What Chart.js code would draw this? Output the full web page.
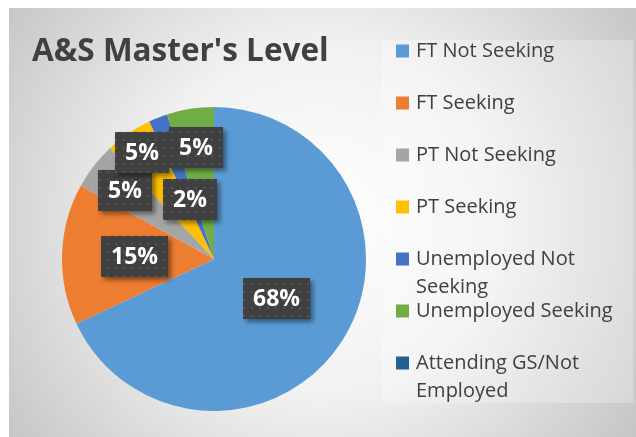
<!DOCTYPE html>
<html>
<head>
<meta charset="utf-8">
<script src="https://cdn.jsdelivr.net/npm/chart.js@4"></script>
<style>
  html, body { margin: 0; padding: 0; background: #fff; }
  #wrap { width: 636px; height: 437px; }
</style>
</head>
<body>
<div id="wrap"><canvas id="pie" width="636" height="437"></canvas></div>
<script>
const chartTitle = "A&S Master's Level";
const categories = ["FT Not Seeking", "FT Seeking", "PT Not Seeking", "PT Seeking",
    "Unemployed Not Seeking", "Unemployed Seeking", "Attending GS/Not Employed"];
const percents = [68, 15, 5, 5, 2, 5, 0];
const sliceColors = ["#5B9BD5", "#ED7D31", "#A5A5A5", "#FFC000", "#4472C4", "#70AD47", "#255E91"];

// how far out along the radius each label box sits (Excel "best fit" look)
const labelRadius = [0.49, 0.52, 0.74, 0.845, 0.42, 0.74, 0.5];

const FONT = "'Open Sans', 'DejaVu Sans', sans-serif";

// dotted texture for the label boxes
function makeDots() {
    const c = document.createElement("canvas");
    c.width = 8; c.height = 8;
    const g = c.getContext("2d");
    g.fillStyle = "#404040";
    g.fillRect(0, 0, 8, 8);
    g.fillStyle = "#555555";
    g.fillRect(3, 3, 2, 2);
    return c;
}

const backdrop = {
    id: "backdrop",
    beforeDraw(chart) {
        const ctx = chart.ctx;
        const w = chart.width, h = chart.height;
        ctx.save();
        ctx.fillStyle = "#ffffff";
        ctx.fillRect(0, 0, w, h);
        const grad = ctx.createRadialGradient(320, 220, 0, 320, 220, 390);
        grad.addColorStop(0, "#ffffff");
        grad.addColorStop(0.45, "#f1f1f1");
        grad.addColorStop(1, "#c4c4c4");
        ctx.fillStyle = grad;
        ctx.fillRect(9, 8, w - 9, h - 8);
        // legend panel
        ctx.fillStyle = "rgba(255,255,255,0.25)";
        ctx.fillRect(382, 40, 251, 363);
        // title
        ctx.fillStyle = "#404040";
        ctx.font = "bold 31.5px " + FONT;
        ctx.textBaseline = "middle";
        ctx.fillText(chartTitle, 32, 52);
        ctx.restore();
    }
};

const sideLegend = {
    id: "sideLegend",
    afterDraw(chart) {
        const ctx = chart.ctx;
        const ds = chart.data.datasets[0];
        ctx.save();
        ctx.font = "20px " + FONT;
        ctx.textBaseline = "middle";
        chart.data.labels.forEach((label, i) => {
            const y = 51 + 52 * i;
            ctx.fillStyle = ds.backgroundColor[i];
            ctx.fillRect(396, y - 6.5, 13, 13);
            // wrap words into the panel width
            const lines = [];
            let line = "";
            label.split(" ").forEach(word => {
                const test = line ? line + " " + word : word;
                if (ctx.measureText(test).width > 212 && line) {
                    lines.push(line);
                    line = word;
                } else {
                    line = test;
                }
            });
            lines.push(line);
            ctx.fillStyle = "#404040";
            lines.forEach((t, k) => ctx.fillText(t, 416, y + k * 28));
        });
        ctx.restore();
    }
};

const boxLabels = {
    id: "boxLabels",
    afterDatasetsDraw(chart) {
        const ctx = chart.ctx;
        const meta = chart.getDatasetMeta(0);
        const pattern = ctx.createPattern(makeDots(), "repeat");
        ctx.save();
        ctx.font = "bold 23px " + FONT;
        ctx.textAlign = "center";
        ctx.textBaseline = "middle";
        meta.data.forEach((arc, i) => {
            const v = percents[i];
            if (!v) return;
            const p = arc.getProps(["x", "y", "startAngle", "endAngle", "outerRadius"], true);
            const mid = (p.startAngle + p.endAngle) / 2;
            const r = p.outerRadius * labelRadius[i];
            const cx = p.x + Math.cos(mid) * r;
            const cy = p.y + Math.sin(mid) * r;
            const text = v + "%";
            const bw = Math.round(ctx.measureText(text).width) + 20;
            const bh = 41;
            const bx = Math.round(cx - bw / 2), by = Math.round(cy - bh / 2);
            ctx.shadowColor = "rgba(0,0,0,0.45)";
            ctx.shadowBlur = 5;
            ctx.shadowOffsetX = 3;
            ctx.shadowOffsetY = 3;
            ctx.fillStyle = pattern;
            ctx.fillRect(bx, by, bw, bh);
            ctx.shadowColor = "transparent";
            ctx.fillStyle = "#ffffff";
            ctx.fillText(text, bx + bw / 2, by + bh / 2 + 1);
        });
        ctx.restore();
    }
};

new Chart(document.getElementById("pie"), {
    type: "pie",
    data: {
        labels: categories,
        datasets: [{
            data: percents,
            backgroundColor: sliceColors,
            borderWidth: 0
        }]
    },
    options: {
        responsive: false,
        animation: false,
        devicePixelRatio: 1,
        layout: { padding: { left: 62, right: 270, top: 107, bottom: 26 } },
        plugins: {
            legend: { display: false },
            title: { display: false },
            tooltip: { enabled: false }
        }
    },
    plugins: [backdrop, boxLabels, sideLegend]
});
</script>
</body>
</html>
